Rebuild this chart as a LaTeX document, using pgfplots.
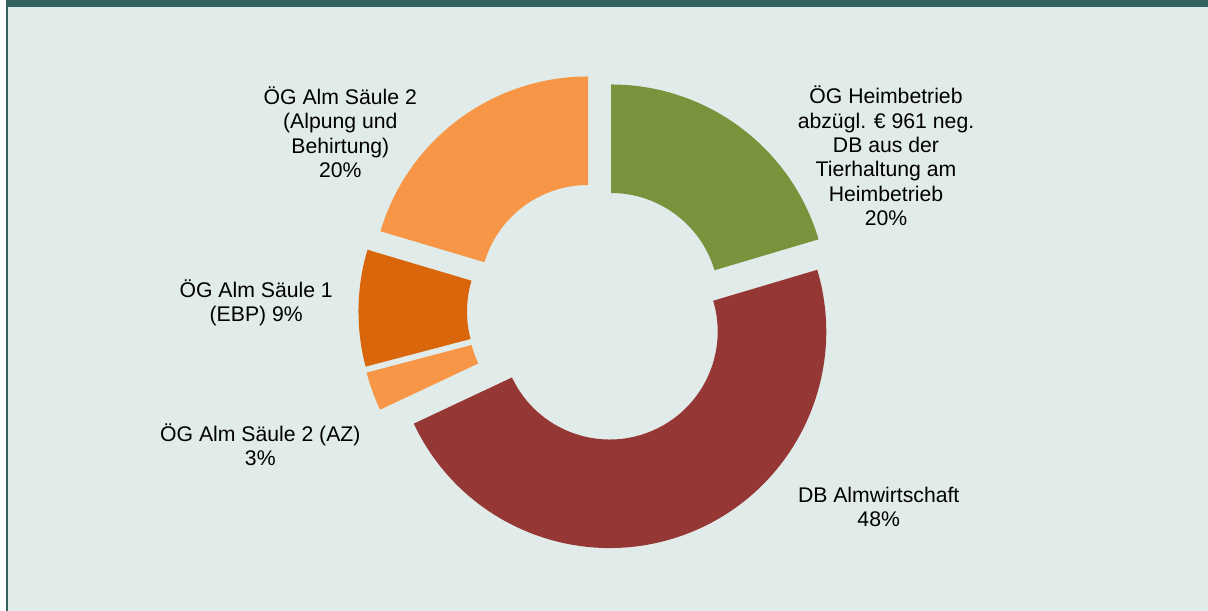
\documentclass[border=0pt]{standalone}
\usepackage{pgfplots}
\pgfplotsset{compat=1.18}
\usepackage{fontspec}
\setmainfont{Liberation Sans}

\definecolor{frame}{HTML}{33635F}
\definecolor{bg}{HTML}{E1EBE9}
\definecolor{cgreen}{HTML}{77933C}
\definecolor{cred}{HTML}{953735}
\definecolor{corange}{HTML}{F79646}
\definecolor{cdark}{HTML}{D9660B}

% shares (percent), clockwise from 12 o'clock
\def\vA{20.4} % OeG Heimbetrieb
\def\vB{47.6} % DB Almwirtschaft
\def\vC{2.9}  % OeG Alm Saeule 2 (AZ)
\def\vD{8.7}  % OeG Alm Saeule 1
\def\vE{20.4} % OeG Alm Saeule 2 (Alpung)

% outer / inner radius (1 px = 0.75pt)
\def\Ro{162.4pt}
\def\Ri{81pt}

\newcommand\slice[5]{% colour, from, to, centre x, centre y (px)
  \fill[#1] ([shift={(#2:\Ro)}]axis cs:#4,#5)
    arc[start angle=#2, end angle=#3, radius=\Ro]
    -- ([shift={(#3:\Ri)}]axis cs:#4,#5)
    arc[start angle=#3, end angle=#2, radius=\Ri] -- cycle;}

% anchored on the baseline of the last line
\tikzset{lbl/.style={font=\fontsize{15.9}{18.3}\selectfont, align=center, anchor=base, inner sep=0pt}}

\begin{document}
\begin{tikzpicture}
\pgfmathsetmacro\tot{\vA+\vB+\vC+\vD+\vE}
\pgfmathsetmacro\aA{90}
\pgfmathsetmacro\aB{\aA-(\vA/\tot)*360}
\pgfmathsetmacro\aC{\aB-(\vB/\tot)*360}
\pgfmathsetmacro\aD{\aC-(\vC/\tot)*360}
\pgfmathsetmacro\aE{\aD-(\vD/\tot)*360}
\pgfmathsetmacro\aF{\aE-(\vE/\tot)*360}
\begin{axis}[
    width=906pt, height=458.25pt, scale only axis,
    xmin=0, xmax=1208, ymin=0, ymax=611, y dir=reverse,
    hide axis, clip=false,
]
\fill[white] (axis cs:0,0) rectangle (axis cs:1208,611);
\fill[bg] (axis cs:6,0) rectangle (axis cs:1208,611);
\fill[frame] (axis cs:6,0) rectangle (axis cs:1208,7);
\fill[frame] (axis cs:6,0) rectangle (axis cs:8,611);

\slice{cgreen}{\aA}{\aB}{611}{301}
\slice{cred}{\aB}{\aC}{609.7}{331.5}
\slice{corange}{\aC}{\aD}{576}{317.5}
\slice{cdark}{\aD}{\aE}{575}{311.5}
\slice{corange}{\aE}{\aF}{588}{293}

\node[lbl] at (axis cs:340.3,177.5) {ÖG Alm Säule 2\\(Alpung und\\Behirtung)\\20\%};
\node[lbl] at (axis cs:886,225.7) {ÖG Heimbetrieb\\abzügl. € 961 neg.\\DB aus der\\Tierhaltung am\\Heimbetrieb\\20\%};
\node[lbl] at (axis cs:256.2,321.7) {ÖG Alm Säule 1\\(EBP) 9\%};
\node[lbl] at (axis cs:260.3,465.7) {ÖG Alm Säule 2 (AZ)\\3\%};
\node[lbl] at (axis cs:878.7,526.7) {DB Almwirtschaft\\48\%};
\end{axis}
\end{tikzpicture}
\end{document}
